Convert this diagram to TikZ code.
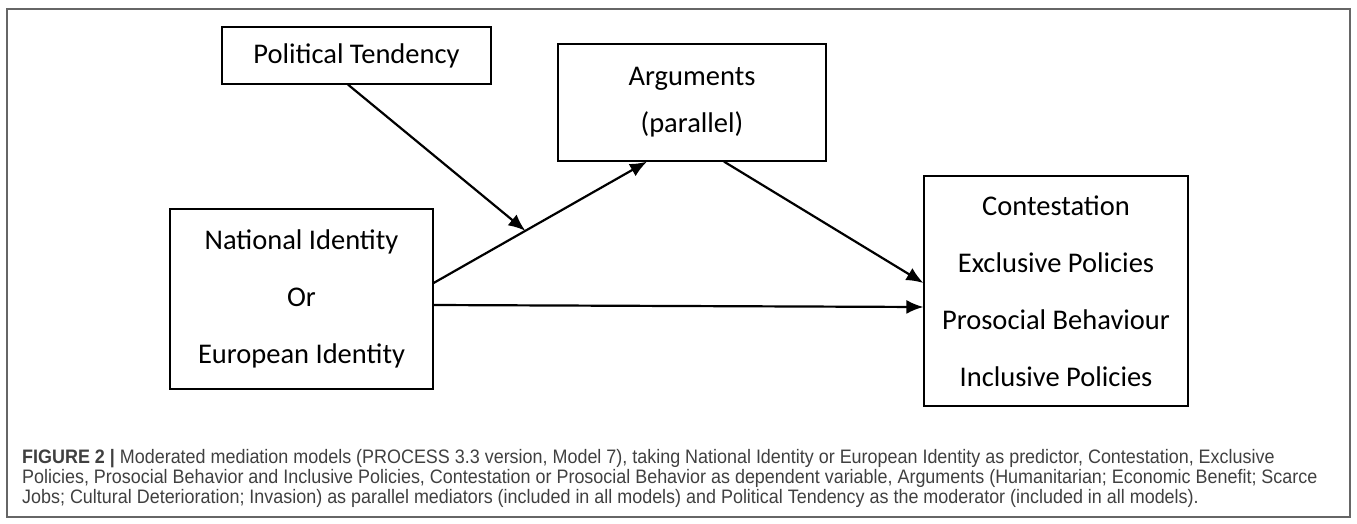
\documentclass[tikz,border=0pt]{standalone}
\usepackage{fontspec}
\setmainfont{Carlito}
\newfontfamily\capfont[FakeStretch=0.92]{Liberation Sans}
\usetikzlibrary{arrows.meta}

\begin{document}
\begin{tikzpicture}[x=1pt,y=-1pt,
    box/.style={draw,line width=1.2pt,align=center,inner sep=0pt,
      font={\fontsize{28.5}{57}\selectfont}},
    arr/.style={line width=2.2pt,-{Latex[length=17pt,width=14pt]}},
    capline/.style={anchor=base west,inner sep=0pt,text=black!75,
      font={\capfont\fontsize{19.5}{20}\selectfont}}]
  \useasboundingbox (0,0) rectangle (1357,523);
  \draw[black!60,line width=1.3pt] (7,9) rectangle (1350,517);
  % boxes
  \node[box,minimum width=269pt,minimum height=57pt] (pt) at (356.5,55.5) {Political Tendency};
  \node[box,minimum width=268pt,minimum height=117pt,
    font={\fontsize{28.5}{47}\selectfont}] (arg) at (692,102.5) {Arguments\\(parallel)};
  \node[box,minimum width=263pt,minimum height=180pt] (ni) at (301.5,299)
    {National Identity\\Or\\European Identity};
  \node[box,minimum width=264pt,minimum height=230pt] (out) at (1056,291)
    {Contestation\\Exclusive Policies\\Prosocial Behaviour\\Inclusive Policies};
  % paths
  \draw[arr] ([yshift=16pt]ni.east) -- coordinate[pos=0.43] (j) ([xshift=-45pt]arg.south);
  \draw[arr] ([xshift=-8.5pt]pt.south) -- (j);
  \draw[arr] ([xshift=32pt]arg.south) -- ([yshift=8pt]out.west);
  \draw[arr] ([yshift=-6pt]ni.east) -- ([yshift=-16pt]out.west);
  % caption
  \node[capline] (cap1) at (22,463) {{\bfseries FIGURE 2 |} Moderated mediation models (PROCESS 3.3 version, Model 7), taking National Identity or European Identity as predictor, Contestation, Exclusive};
  \node[capline] (cap2) at (22,483) {Policies, Prosocial Behavior and Inclusive Policies, Contestation or Prosocial Behavior as dependent variable, Arguments (Humanitarian; Economic Benefit; Scarce};
  \node[capline] (cap3) at (22,503) {Jobs; Cultural Deterioration; Invasion) as parallel mediators (included in all models) and Political Tendency as the moderator (included in all models).};
\end{tikzpicture}
\end{document}
